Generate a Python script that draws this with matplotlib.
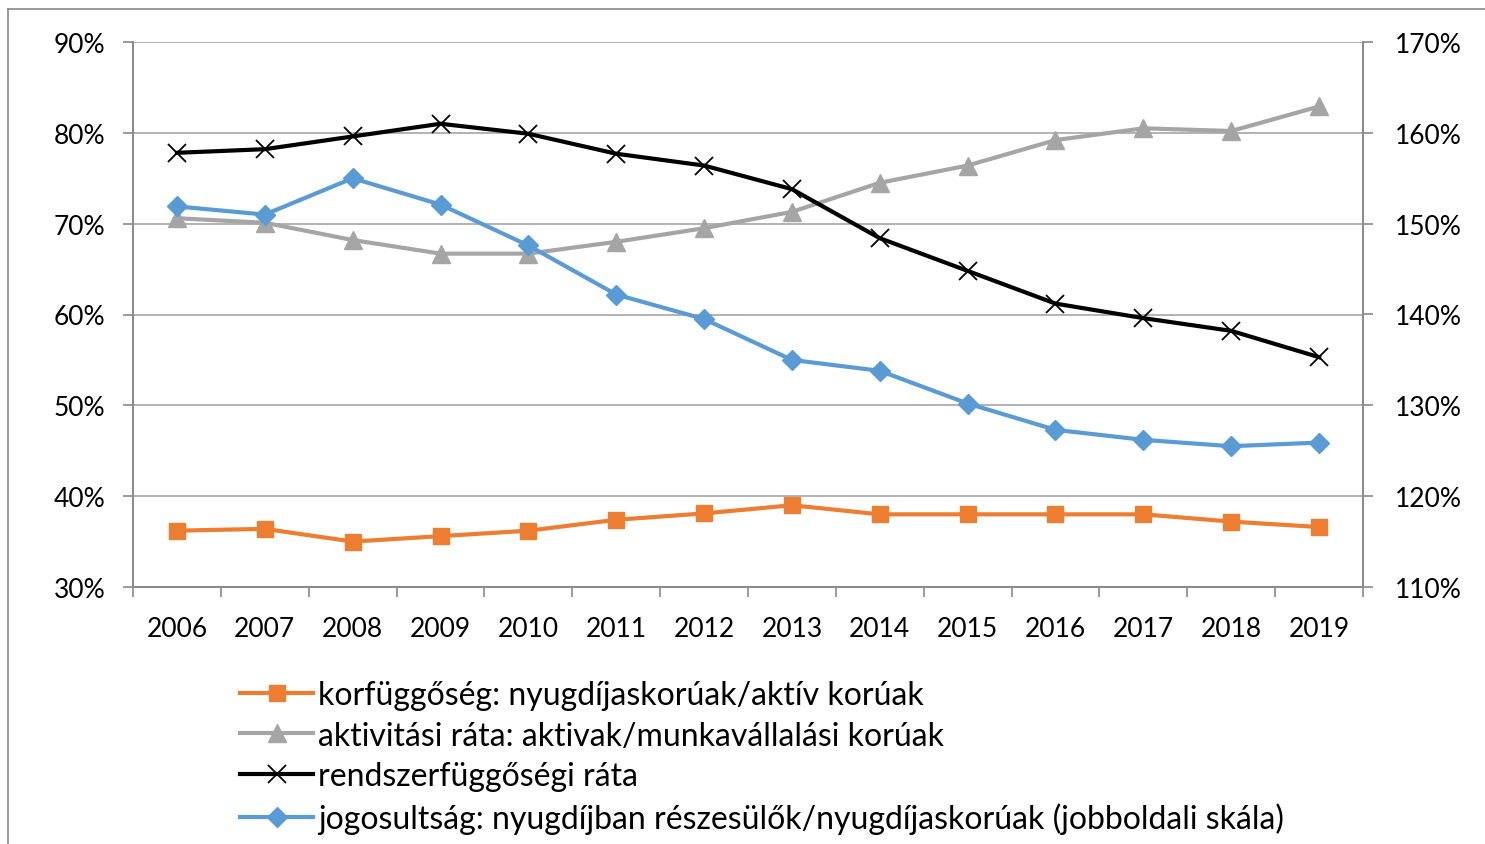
import matplotlib.pyplot as plt
from matplotlib.lines import Line2D
from matplotlib.ticker import FixedLocator

plt.rcParams['font.family'] = ['Lato', 'DejaVu Sans']

years = [2006, 2007, 2008, 2009, 2010, 2011, 2012, 2013, 2014, 2015, 2016, 2017, 2018, 2019]

# left scale (%)
korfuggoseg = [36.2, 36.4, 35.0, 35.6, 36.2, 37.4, 38.1, 39.0, 38.0, 38.0, 38.0, 38.0, 37.2, 36.6]
aktivitasi = [70.6, 70.1, 68.2, 66.7, 66.7, 68.0, 69.5, 71.3, 74.5, 76.4, 79.2, 80.5, 80.2, 82.9]
rendszer = [77.8, 78.2, 79.6, 81.0, 79.9, 77.7, 76.4, 73.8, 68.4, 64.8, 61.2, 59.6, 58.2, 55.3]
# right scale (%)
jogosultsag = [151.9, 151.0, 155.0, 152.1, 147.6, 142.2, 139.5, 135.0, 133.8, 130.2, 127.3, 126.2, 125.5, 125.9]

left_ticks = [30, 40, 50, 60, 70, 80, 90]
right_ticks = [110, 120, 130, 140, 150, 160, 170]

labels = [
    "korfüggőség: nyugdíjaskorúak/aktív korúak",
    "aktivitási ráta: aktivak/munkavállalási korúak",
    "rendszerfüggőségi ráta",
    "jogosultság: nyugdíjban részesülők/nyugdíjaskorúak (jobboldali skála)",
]

ORANGE = "#ED7D31"
GRAY = "#A5A5A5"
BLUE = "#5B9BD5"
AXIS = "#898989"
GRID = "#A6A6A6"
FS = 19

fig = plt.figure(figsize=(14.85, 8.45), dpi=100)
ax = fig.add_axes([133 / 1485, 1 - 588 / 845, (1363 - 133) / 1485, (588 - 43) / 845])
ax2 = ax.twinx()

x = list(range(len(years)))
lw = 3.0
l1, = ax.plot(x, korfuggoseg, color=ORANGE, lw=lw, marker="s", ms=12, label=labels[0])
l2, = ax.plot(x, aktivitasi, color=GRAY, lw=lw, marker="^", ms=13, label=labels[1])
l3, = ax.plot(x, rendszer, color="black", lw=lw, marker="x", ms=13, mew=1.3, label=labels[2])
l4, = ax2.plot(x, jogosultsag, color=BLUE, lw=lw, marker="D", ms=10, label=labels[3])

ax.set_xlim(-0.5, len(years) - 0.5)
ax.set_ylim(30, 90)
ax2.set_ylim(110, 170)
ax.set_yticks(left_ticks)
ax.set_yticklabels([f"{t}%" for t in left_ticks])
ax2.set_yticks(right_ticks)
ax2.set_yticklabels([f"{t}%" for t in right_ticks])

ax.set_xticks(x)
ax.set_xticklabels([str(y) for y in years])
ax.xaxis.set_minor_locator(FixedLocator([i - 0.5 for i in range(len(years) + 1)]))
ax.tick_params(axis="x", which="major", length=0, pad=21, labelsize=FS)
ax.tick_params(axis="x", which="minor", length=7, width=1.2, color=AXIS)
ax.tick_params(axis="y", length=7, width=1.2, color=AXIS, pad=13, labelsize=FS)
ax2.tick_params(axis="y", length=7, width=1.2, color=AXIS, pad=16, labelsize=FS)

ax.grid(axis="y", color=GRID, lw=1.2)
ax.set_axisbelow(True)
for a in (ax, ax2):
    a.spines["top"].set_visible(False)
    for s in ("left", "right", "bottom"):
        a.spines[s].set_color(AXIS)
        a.spines[s].set_linewidth(1.2)

leg = fig.legend(handles=[l1, l2, l3, l4], loc="upper left",
                 bbox_to_anchor=(227 / 1485, 1 - 668 / 845), frameon=False,
                 fontsize=23, handlelength=2.3, handletextpad=0.15,
                 labelspacing=0.34, borderaxespad=0)

# outer chart border (left and top visible)
fig.add_artist(Line2D([8 / 1485, 8 / 1485], [0, 1 - 10 / 845], transform=fig.transFigure, color=AXIS, lw=1.2))
fig.add_artist(Line2D([8 / 1485, 1], [1 - 10 / 845, 1 - 10 / 845], transform=fig.transFigure, color=AXIS, lw=1.2))

fig.savefig("out.png", dpi=100)
